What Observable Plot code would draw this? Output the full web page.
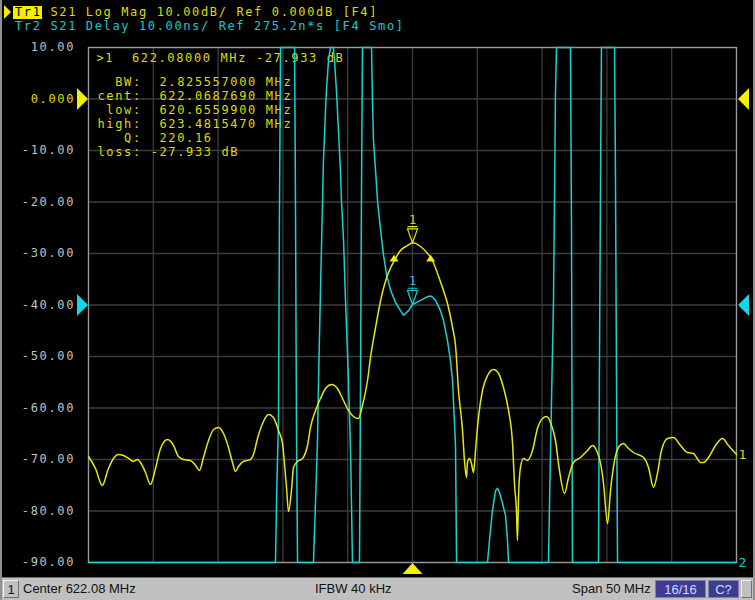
<!DOCTYPE html>
<html>
<head>
<meta charset="utf-8">
<script src="https://cdn.jsdelivr.net/npm/d3@7"></script>
<script src="https://cdn.jsdelivr.net/npm/@observablehq/plot@0.6"></script>
<style>
  html, body { margin:0; padding:0; }
  body { background:#000; width:755px; height:600px; overflow:hidden; position:relative; }
  #hdr { position:absolute; left:0; top:0; width:755px; height:36px; font-family:"DejaVu Sans Mono", monospace; font-size:12px; letter-spacing:1.63px; white-space:pre; }
  #hdr .tri { position:absolute; left:4px; top:5px; width:0; height:0; border-top:7px solid transparent; border-bottom:7px solid transparent; border-left:7px solid #f0f000; }
  #hdr .l1 { position:absolute; left:15px; top:5px; line-height:14px; color:#dcdc00; }
  #hdr .l2 { position:absolute; left:15px; top:19px; line-height:14px; color:#10cccc; }
  #hdr .hl { display:inline-block; background:#f0f000; color:#000; margin-left:-2px; padding:0 0 0 2px; line-height:13px; height:13px; vertical-align:top; margin-top:0.5px; }
  #chart { position:absolute; left:0; top:36px; }
  #status { position:absolute; left:0; top:577px; width:755px; height:23px; background:#c0c0c0; border-top:1px solid #707070; box-sizing:border-box; font-family:"Liberation Sans", Arial, sans-serif; font-size:13px; color:#101010; }
  #status div { position:absolute; top:2px; height:18px; line-height:18px; white-space:pre; }
  #status .box { border-top:1px solid #f0f0f0; border-left:1px solid #f0f0f0; border-right:1px solid #707070; border-bottom:1px solid #707070; box-sizing:border-box; text-align:center; }
  #status .blue { background:#3c3c90; color:#d8d8ff; text-align:center; box-sizing:border-box; border:1px solid #8080b0; }
  .edge { position:absolute; top:0; width:2px; height:600px; background:#909090; }
</style>
</head>
<body>
<div id="hdr">
  <div class="tri"></div>
  <div class="l1" id="l1"></div>
  <div class="l2" id="l2"></div>
</div>
<div id="chart"></div>
<div id="status"></div>
<div class="edge" style="left:0"></div>
<div class="edge" style="left:753px"></div>
<script>
// ---------- text content ----------
const trace1Name = "Tr1";
const trace1Desc = " S21 Log Mag 10.00dB/ Ref 0.000dB [F4]";
const trace2Desc = "Tr2 S21 Delay 10.00ns/ Ref 275.2n*s [F4 Smo]";
const statusCenter = "Center 622.08 MHz";
const statusIfbw = "IFBW 40 kHz";
const statusSpan = "Span 50 MHz";
const statusCount = "16/16";
const statusCal = "C?";
const statusChannel = "1";

// ---------- axes ----------
const freqDomain = [597.08, 647.08];
const xGrid = [597.08, 602.08, 607.08, 612.08, 617.08, 622.08, 627.08, 632.08, 637.08, 642.08, 647.08];
const yTicks = [10, 0, -10, -20, -30, -40, -50, -60, -70, -80, -90];
const yTickLabels = ["10.00", "0.000", "-10.00", "-20.00", "-30.00", "-40.00", "-50.00", "-60.00", "-70.00", "-80.00", "-90.00"];

// ---------- trace 1 : S21 Log Mag (dB) ----------
const yellowFreq = [597.08,597.62,598.14,598.62,599.01,599.39,599.78,600.17,600.55,600.86,
601.09,601.48,601.86,602.25,602.64,603.18,603.64,604.02,604.41,604.95,
605.34,605.64,605.95,606.34,606.73,607.11,607.50,607.88,608.19,608.42,
608.65,609.04,609.58,609.81,610.12,610.51,610.97,611.35,611.74,612.05,
612.20,612.36,612.51,612.74,612.90,613.21,613.59,613.98,614.21,614.60,
614.98,615.37,615.83,616.29,616.68,617.06,617.53,617.91,618.22,618.61,
618.84,619.23,619.62,620.09,620.40,620.77,621.15,621.69,622.08,622.70,
623.24,623.62,624.01,624.39,624.78,625.17,625.40,625.63,625.94,626.09,
626.25,626.32,626.48,626.63,626.79,626.94,627.17,627.48,627.87,628.33,
628.72,629.10,629.49,629.80,629.95,630.11,630.18,630.26,630.41,630.64,
630.95,631.34,631.72,632.11,632.42,632.73,633.11,633.42,633.81,634.12,
634.50,635.04,635.58,635.97,636.28,636.59,636.82,637.13,637.36,637.67,
637.97,638.36,638.75,639.13,639.91,640.29,640.68,640.98,641.29,641.76,
642.22,642.76,643.30,643.76,644.30,644.53,644.92,645.46,646.00,646.46,
647.08];
const yellowDb = [-69.42,-71.75,-75.05,-71.75,-69.80,-69.03,-69.22,-69.80,-70.38,-69.99,
-70.57,-72.52,-74.85,-71.75,-67.86,-66.11,-67.28,-69.42,-69.99,-70.19,
-71.16,-72.13,-69.61,-66.31,-64.17,-63.78,-64.95,-67.67,-70.58,-72.33,
-71.36,-70.38,-69.99,-69.03,-65.92,-63.01,-61.26,-61.84,-64.37,-66.89,
-70.77,-75.43,-80.10,-76.02,-71.55,-70.38,-69.80,-67.28,-63.78,-60.48,
-58.15,-56.21,-55.44,-56.21,-58.15,-60.10,-61.65,-62.04,-59.51,-54.66,
-50.19,-44.37,-39.13,-34.66,-32.72,-30.97,-29.42,-28.45,-27.933,-28.64,
-30.00,-31.36,-33.88,-36.60,-39.71,-44.37,-47.86,-56.60,-64.37,-70.19,
-73.49,-70.58,-69.80,-70.77,-72.52,-68.25,-61.84,-56.60,-53.69,-52.52,
-53.30,-56.02,-60.48,-66.89,-74.66,-80.48,-85.73,-77.38,-71.55,-69.80,
-70.19,-68.25,-63.98,-62.04,-61.65,-62.81,-66.31,-72.13,-76.60,-73.49,
-70.58,-69.61,-68.25,-67.28,-68.25,-70.77,-74.66,-82.42,-76.02,-70.19,
-67.67,-66.89,-67.86,-68.64,-69.61,-71.55,-75.43,-72.71,-68.25,-65.92,
-65.73,-67.28,-68.64,-68.83,-70.58,-70.58,-69.61,-67.28,-65.92,-67.28,
-69.03];

// ---------- trace 2 : S21 Delay (ns), as displayed (clipped to screen) ----------
const cyanFreq = [597.08,611.51,611.59,611.74,611.82,611.90,612.98,613.05,613.13,613.21,
614.44,614.60,614.75,614.83,614.98,615.14,615.21,615.29,615.37,615.44,
615.52,615.60,615.75,615.98,616.06,616.21,616.37,616.52,616.60,616.76,
616.91,617.06,617.14,617.30,617.45,617.99,618.07,618.14,618.22,618.92,
618.99,619.07,619.23,619.38,619.62,619.85,620.09,620.40,620.77,621.15,
621.39,621.77,622.08,622.70,623.31,623.55,623.86,624.24,624.47,624.78,
625.01,625.17,625.40,625.48,627.87,628.02,628.25,628.49,628.64,628.79,
629.02,629.26,629.41,629.49,632.57,632.73,632.96,633.04,633.11,633.19,
634.27,634.35,634.42,636.43,636.51,636.59,636.66,637.67,637.74,637.82,
637.90,647.08];
const cyanDelay = [225.2,225.2,237.2,252.8,295.5,325.2,325.2,295.5,250.4,225.2,
225.2,237.2,248.9,260.5,278.0,295.5,303.3,308.1,313.0,316.9,
319.8,322.7,325.2,325.2,322.7,316.9,309.1,301.3,295.5,287.7,
276.1,266.4,260.5,247.0,225.2,225.2,260.5,295.5,325.2,325.2,
314.9,307.1,301.3,295.5,289.7,284.8,280.9,278.0,275.7,274.1,
273.2,274.1,275.3,276.1,276.9,276.9,276.1,274.1,272.2,268.3,
264.4,260.5,247.9,225.2,225.2,229.5,235.3,239.2,239.6,238.8,
236.7,234.3,229.5,225.2,225.2,247.0,276.1,297.0,315.9,325.2,
325.2,289.3,225.2,225.2,265.4,299.8,325.2,325.2,301.1,261.3,
225.2,225.2];
const delayRef = 275.2;      // ns at reference line
const delayPerDiv = 10;      // ns/div
const delayRefGrid = -40;    // reference line position on the dB grid

// ---------- marker readout ----------
const markerFreq = 622.08;
const markerDb = -27.933;
const markerDelay = 275.3;
const bwLow = 620.6559900;
const bwHigh = 623.4815470;
const bwLevel = -30.933;
const readout = ">1  622.08000 MHz -27.933 dB";
const statLabels = ["BW:", "cent:", "low:", "high:", "Q:", "loss:"];
const statValues = ["2.825557000 MHz", "622.0687690 MHz", "620.6559900 MHz", "623.4815470 MHz", "220.16", "-27.933 dB"];

// ---------- colours ----------
const YEL = "#e6e610";
const YTXT = "#dcdc00";
const CYA = "#18d2d2";
const GRID = "#3c3c3c";
const FRAME = "#9a9a9a";
const LBL = "#c0c0c0";

// ---------- header & status ----------
document.getElementById("l1").innerHTML = `<span class="hl">${trace1Name}</span>${trace1Desc}`;
document.getElementById("l2").textContent = trace2Desc;
const st = document.getElementById("status");
st.innerHTML = `
  <div class="box" style="left:3px;width:16px;">${statusChannel}</div>
  <div style="left:23px;">${statusCenter}</div>
  <div style="left:315px;">${statusIfbw}</div>
  <div style="left:572px;">${statusSpan}</div>
  <div class="blue" style="left:655px;width:51px;">${statusCount}</div>
  <div class="blue" style="left:708px;width:31px;">${statusCal}</div>
  <div class="box" style="left:741px;width:11px;"></div>`;

// ---------- derived tables ----------
const nb = s => s.replace(/ /g, "\u00a0");
const yellow = yellowFreq.map((f, i) => ({f, v: yellowDb[i]}));
const toGrid = d => Math.max(-90, Math.min(10, (d - delayRef) / delayPerDiv * 10 + delayRefGrid));
const cyan = cyanFreq.map((f, i) => ({f, v: toGrid(cyanDelay[i])}));
const ticks = yTicks.map((v, i) => ({v, s: yTickLabels[i]}));
const statText = statLabels.map((l, i) => l.padStart(5) + (statValues[i].startsWith("-") ? " " : "  ") + statValues[i]).join("\n");

// ---------- custom symbols ----------
const rad = s => Math.sqrt(s / Math.PI);
const triRight = {draw(c, s) { const r = rad(s); c.moveTo(r * 0.5, 0); c.lineTo(-r * 0.5, -r); c.lineTo(-r * 0.5, r); c.closePath(); }};
const triLeft  = {draw(c, s) { const r = rad(s); c.moveTo(-r * 0.5, 0); c.lineTo(r * 0.5, -r); c.lineTo(r * 0.5, r); c.closePath(); }};
const triUpWide = {draw(c, s) { const r = rad(s); c.moveTo(0, -0.55 * r); c.lineTo(r, 0.55 * r); c.lineTo(-r, 0.55 * r); c.closePath(); }};
const triUpSmall = {draw(c, s) { const r = rad(s); c.moveTo(0, -0.8 * r); c.lineTo(r, 0.7 * r); c.lineTo(-r, 0.7 * r); c.closePath(); }};
const markSym = {draw(c, s) { const r = rad(s); c.moveTo(0, 0); c.lineTo(-r, -2.8 * r); c.lineTo(r, -2.8 * r); c.closePath(); c.moveTo(-r, -3.25 * r); c.lineTo(r, -3.25 * r); }};

const yLast = yellow[yellow.length - 1];
const cLast = cyan[cyan.length - 1];
const FS = 12;

const chart = Plot.plot({
  width: 755,
  height: 539,
  marginLeft: 88,
  marginRight: 19,
  marginTop: 11,
  marginBottom: 13,
  x: {domain: freqDomain, axis: null},
  y: {domain: [-90, 10], axis: null},
  style: {background: "#000", fontFamily: "DejaVu Sans Mono", fontSize: "12px", letterSpacing: "1.63px", overflow: "visible"},
  marks: [
    Plot.ruleX(xGrid, {stroke: GRID, strokeWidth: 1.3}),
    Plot.ruleY(yTicks, {stroke: GRID, strokeWidth: 1.3}),
    Plot.frame({stroke: FRAME, strokeWidth: 1.3}),
    // y tick labels
    Plot.text(ticks.filter(d => d.v !== 0), {y: "v", text: "s", frameAnchor: "left", textAnchor: "end", dx: -13.5, fill: LBL, fontSize: FS}),
    Plot.text(ticks.filter(d => d.v === 0), {y: "v", text: "s", frameAnchor: "left", textAnchor: "end", dx: -13.5, fill: YTXT, fontSize: FS}),
    // marker readout
    Plot.text([readout], {text: d => nb(d), frameAnchor: "top-left", textAnchor: "start", lineAnchor: "middle", dx: 8, dy: 11, fill: YTXT, fontSize: FS}),
    Plot.text([statText], {text: d => nb(d), frameAnchor: "top-left", textAnchor: "start", lineAnchor: "middle", lineHeight: 14 / FS, dx: 9, dy: 69, fill: YTXT, fontSize: FS}),
    // traces
    Plot.line(cyan, {x: "f", y: "v", stroke: CYA, strokeWidth: 1.5}),
    Plot.line(yellow, {x: "f", y: "v", stroke: YEL, strokeWidth: 1.5, curve: "monotone-x"}),
    // reference level triangles
    Plot.dot([0], {y: d => d, frameAnchor: "left", dx: -6, symbol: triRight, r: 11, fill: "#f0f000", stroke: "none"}),
    Plot.dot([0], {y: d => d, frameAnchor: "right", dx: 7, symbol: triLeft, r: 11, fill: "#f0f000", stroke: "none"}),
    Plot.dot([delayRefGrid], {y: d => d, frameAnchor: "left", dx: -6, symbol: triRight, r: 11, fill: "#10d8e8", stroke: "none"}),
    Plot.dot([delayRefGrid], {y: d => d, frameAnchor: "right", dx: 7, symbol: triLeft, r: 11, fill: "#10d8e8", stroke: "none"}),
    Plot.dot([markerFreq], {x: d => d, frameAnchor: "bottom", dy: 6, symbol: triUpWide, r: 10, fill: "#f0f000", stroke: "none"}),
    // bandwidth markers
    Plot.dot([{f: bwLow, v: bwLevel}, {f: bwHigh, v: bwLevel}], {x: "f", y: "v", symbol: triUpSmall, r: 4.5, fill: "#f0f000", stroke: "none"}),
    // marker 1 on both traces
    Plot.dot([{f: markerFreq, v: markerDb}], {x: "f", y: "v", symbol: markSym, r: 5, fill: "none", stroke: YEL, strokeWidth: 1.2}),
    Plot.text([{f: markerFreq, v: markerDb}], {x: "f", y: "v", text: () => "1", dy: -23, dx: 0.8, fill: YTXT, fontSize: FS}),
    Plot.dot([{f: markerFreq, v: toGrid(markerDelay)}], {x: "f", y: "v", symbol: markSym, r: 5, fill: "none", stroke: CYA, strokeWidth: 1.2}),
    Plot.text([{f: markerFreq, v: toGrid(markerDelay)}], {x: "f", y: "v", text: () => "1", dy: -23, dx: 0.8, fill: CYA, fontSize: FS}),
    // trace end labels
    Plot.text([yLast], {x: "f", y: "v", text: () => "1", dx: 2, textAnchor: "start", fill: YTXT, fontSize: 13}),
    Plot.text([cLast], {x: "f", y: "v", text: () => "2", dx: 2, textAnchor: "start", fill: CYA, fontSize: 13})
  ]
});
document.getElementById("chart").appendChild(chart);
</script>
</body>
</html>
